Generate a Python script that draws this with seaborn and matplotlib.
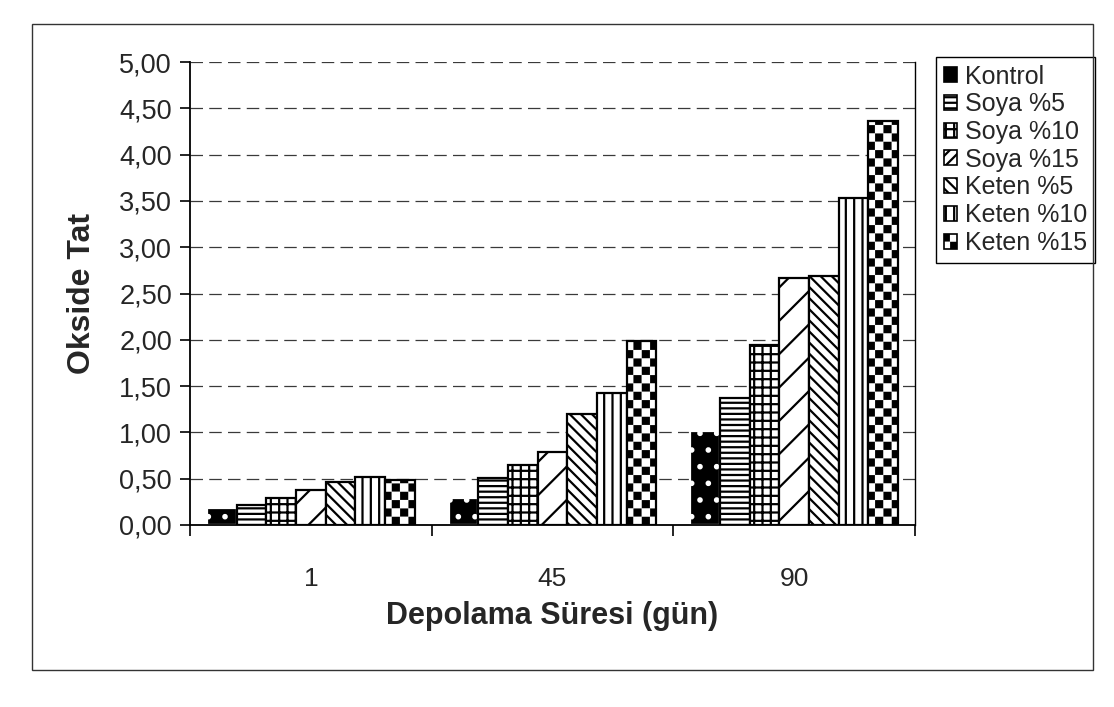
import warnings
import numpy as np
import pandas as pd
import matplotlib
matplotlib.use("Agg")
import matplotlib.pyplot as plt
import matplotlib.hatch as mhatch
from matplotlib.path import Path
from matplotlib.patches import Rectangle, Patch
from matplotlib.ticker import FuncFormatter, FixedLocator
import seaborn as sns

warnings.filterwarnings("ignore")

# ---------------- data ----------------
days = ["1", "45", "90"]
groups = ["Kontrol", "Soya %5", "Soya %10", "Soya %15", "Keten %5", "Keten %10", "Keten %15"]
kontrol = [0.18, 0.29, 1.02]
soya5 = [0.22, 0.51, 1.37]
soya10 = [0.29, 0.65, 1.94]
soya15 = [0.38, 0.79, 2.67]
keten5 = [0.46, 1.20, 2.69]
keten10 = [0.52, 1.43, 3.53]
keten15 = [0.49, 1.99, 4.36]
y_ticks = [0.0, 0.5, 1.0, 1.5, 2.0, 2.5, 3.0, 3.5, 4.0, 4.5, 5.0]

series = [kontrol, soya5, soya10, soya15, keten5, keten10, keten15]
df = pd.DataFrame(
    [(d, g, v) for g, vals in zip(groups, series) for d, v in zip(days, vals)],
    columns=["gun", "grup", "deger"],
)

# ------------- checkerboard hatch -------------
class CheckerHatch(mhatch.HatchPatternBase):
    def __init__(self, hatch, density):
        self.n = int(hatch.count("c") * density)
        self.cells = [(i, j) for i in range(self.n) for j in range(self.n) if (i + j) % 2 == 0]
        self.num_vertices = len(self.cells) * 5

    def set_vertices_and_codes(self, vertices, codes):
        s = 1.0 / self.n
        e = 0.012  # inset to compensate for the hatch stroke
        for k, (i, j) in enumerate(self.cells):
            x0, y0 = i * s + e, j * s + e
            x1, y1 = (i + 1) * s - e, (j + 1) * s - e
            vertices[5 * k:5 * k + 5] = [(x0, y0), (x1, y0), (x1, y1), (x0, y1), (x0, y0)]
            codes[5 * k:5 * k + 5] = [Path.MOVETO, Path.LINETO, Path.LINETO,
                                      Path.LINETO, Path.CLOSEPOLY]

if CheckerHatch not in mhatch._hatch_types:
    mhatch._hatch_types.append(CheckerHatch)

# ---------------- style ----------------
sns.set_style("white")
plt.rcParams["font.family"] = ["Liberation Sans", "DejaVu Sans"]
plt.rcParams["hatch.linewidth"] = 1.6

fig = plt.figure(figsize=(11.14, 7.07), dpi=100)
ax = fig.add_axes([190 / 1114, 1 - 525 / 707, (915 - 190) / 1114, (525 - 62) / 707])

colors = ["black"] + ["white"] * 6
sns.barplot(data=df, x="gun", y="deger", hue="grup", order=days, hue_order=groups,
            palette=colors, width=0.86, edgecolor="black", linewidth=1.6,
            errorbar=None, legend=False, saturation=1, ax=ax)

hatches = [".", "---", "++", "/", "\\\\\\", "||", "cc"]
edges = ["white", "black", "black", "black", "black", "black", "black"]
for cont, h, ec in zip(ax.containers, hatches, edges):
    for bar in cont:
        bar.set_hatch(h)
        bar.set_edgecolor(ec)

# ---------------- axes ----------------
ax.set_ylim(0, 5)
ax.set_xlim(-0.5, 2.5)
ax.set_yticks(y_ticks)
ax.yaxis.set_major_formatter(FuncFormatter(lambda v, p: f"{v:.2f}".replace(".", ",")))
ax.tick_params(axis="y", which="major", left=True, length=7, width=1.2, pad=6,
               labelsize=19.5, direction="out", color="black")
ax.tick_params(axis="x", which="major", bottom=False, length=0, pad=30, labelsize=19)
ax.xaxis.set_minor_locator(FixedLocator([-0.5, 0.5, 1.5, 2.5]))
ax.tick_params(axis="x", which="minor", bottom=True, length=8, width=1.2,
               direction="out", color="black")

ax.yaxis.grid(True, color="#3a3a3a", linewidth=0.9, linestyle=(0, (10, 5)))
ax.xaxis.grid(False)
ax.set_axisbelow(True)

for side in ["left", "bottom"]:
    ax.spines[side].set_color("black")
    ax.spines[side].set_linewidth(1.3)
ax.spines["right"].set_color("black")
ax.spines["right"].set_linewidth(1.0)
ax.spines["top"].set_visible(False)

ax.set_ylabel("Okside Tat", fontsize=23, fontweight="bold")
ax.set_xlabel("Depolama Süresi (gün)", fontsize=22, fontweight="bold")
ax.yaxis.set_label_coords(-0.128, 0.5)
ax.xaxis.set_label_coords(0.5, -0.165)

# legend keys: small squares, denser patterns so they read at icon size
legend_hatches = [".", "---", "++", "///", "\\\\\\", "||", "cc"]
handles = [
    Patch(facecolor=fc, edgecolor=("black" if i else "black"), hatch=(None if i == 0 else h),
          linewidth=1.2)
    for i, (fc, h) in enumerate(zip(colors, legend_hatches))
]
leg = ax.legend(handles, groups, loc="upper left",
                bbox_to_anchor=(936 / 1114, 1 - 57 / 707), bbox_transform=fig.transFigure,
                fontsize=18, frameon=True, fancybox=False, framealpha=1,
                edgecolor="black", handlelength=0.55, handleheight=0.55,
                handletextpad=0.3, labelspacing=0.15, borderpad=0.3, borderaxespad=0)
leg.get_frame().set_linewidth(1.0)

# outer chart frame
fig.add_artist(Rectangle((32 / 1114, 1 - 670 / 707), (1093 - 32) / 1114, (670 - 24) / 707,
                         transform=fig.transFigure, fill=False, edgecolor="#333333",
                         linewidth=1.0))

fig.savefig("out.png", dpi=100, facecolor="white")
